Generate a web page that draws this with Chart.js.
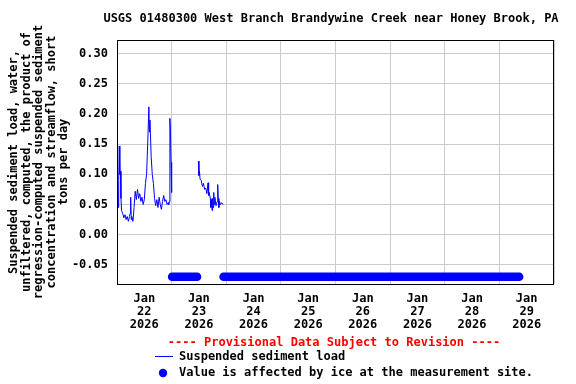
<!DOCTYPE html>
<html>
<head>
<meta charset="utf-8">
<script src="https://cdn.jsdelivr.net/npm/chart.js@4.4.0/dist/chart.umd.min.js"></script>
<style>
  html, body { margin: 0; padding: 0; background: #fff; }
  #chart { display: block; }
</style>
</head>
<body>
<canvas id="chart" width="576" height="384"></canvas>
<script>
// hours since Jan 22 2026 00:00
const sedTimes1 = [0.25, 0.5, 0.75, 1.0, 1.25, 1.5, 1.75, 2.0, 2.5, 3.0, 3.5, 4.0, 4.5, 5.0, 5.5, 5.75,
    6.0, 6.25, 6.5, 7.0, 7.5, 8.0, 8.5, 9.0, 9.5, 10.0, 10.5, 11.0, 11.5, 12.0, 12.5, 13.0, 13.5,
    14.0, 14.25, 14.5, 15.0, 15.5, 16.0, 16.5, 17.0, 17.5, 18.0, 18.5, 19.0, 19.5, 20.0, 20.5,
    21.0, 21.5, 22.0, 22.5, 22.75, 23.0, 23.25, 23.5, 23.75, 24.0];
const sedValues1 = [0.083, 0.045, 0.09, 0.147, 0.1, 0.105, 0.06, 0.04, 0.035, 0.028, 0.033, 0.025, 0.03, 0.022, 0.03, 0.035,
    0.062, 0.025, 0.03, 0.022, 0.045, 0.072, 0.058, 0.075, 0.06, 0.068, 0.055, 0.062, 0.05, 0.058, 0.085, 0.1, 0.152,
    0.212, 0.17, 0.19, 0.13, 0.1, 0.085, 0.06, 0.048, 0.058, 0.045, 0.062, 0.05, 0.042, 0.055, 0.065,
    0.055, 0.058, 0.05, 0.053, 0.05, 0.055, 0.193, 0.17, 0.12, 0.07];
const sedTimes2 = [35.75, 36.0, 36.25, 36.5, 37.0, 37.5, 38.0, 38.5, 39.0, 39.5, 40.0, 40.25, 40.5, 41.0, 41.25,
    41.5, 41.75, 42.0, 42.25, 42.5, 42.75, 43.0, 43.5, 44.0, 44.25, 44.5, 44.75, 45.0, 45.5, 46.0, 46.5];
const sedValues2 = [0.122, 0.098, 0.105, 0.092, 0.09, 0.08, 0.085, 0.075, 0.077, 0.068, 0.086, 0.065, 0.07, 0.06, 0.045,
    0.058, 0.04, 0.06, 0.045, 0.07, 0.05, 0.062, 0.048, 0.055, 0.083, 0.06, 0.045, 0.055, 0.05, 0.053, 0.05];

// ice-affected periods (hours since Jan 22 00:00)
const iceStart = [24.2, 46.8];
const iceEnd = [35.2, 176.7];
const iceLevel = -0.07;

const dayLabels = ['22', '23', '24', '25', '26', '27', '28', '29'];
const monthLabel = 'Jan';
const yearLabel = '2026';
const yTicks = [-0.05, 0.00, 0.05, 0.10, 0.15, 0.20, 0.25, 0.30];

const titleText = 'USGS 01480300 West Branch Brandywine Creek near Honey Brook, PA';
const yTitle = [
    'Suspended sediment load, water,',
    'unfiltered, computed, the product of',
    'regression-computed suspended sediment',
    'concentration and streamflow, short',
    'tons per day'
];
const provisionalText = '---- Provisional Data Subject to Revision ----';
const legendLine = 'Suspended sediment load';
const legendIce = 'Value is affected by ice at the measurement site.';

const FONT = 'bold 12px "DejaVu Sans Mono", monospace';

const sedData = [];
sedTimes1.forEach((t, i) => sedData.push({ x: t, y: sedValues1[i] }));
sedData.push({ x: 30, y: null });
sedTimes2.forEach((t, i) => sedData.push({ x: t, y: sedValues2[i] }));

const iceData = [];
iceStart.forEach((s, i) => {
    if (i > 0) iceData.push({ x: (iceEnd[i - 1] + s) / 2, y: null });
    iceData.push({ x: s, y: iceLevel });
    iceData.push({ x: iceEnd[i], y: iceLevel });
});

const decorPlugin = {
    id: 'decor',
    afterDraw(chart) {
        const ctx = chart.ctx;
        const a = chart.chartArea;
        ctx.save();
        // plot frame
        ctx.strokeStyle = '#000';
        ctx.lineWidth = 1;
        ctx.strokeRect(Math.round(a.left) + 0.5, Math.round(a.top) + 0.5,
            Math.round(a.right - a.left) - 1, Math.round(a.bottom - a.top));

        ctx.font = FONT;
        ctx.fillStyle = '#000';
        ctx.textBaseline = 'middle';
        ctx.textAlign = 'center';
        ctx.fillText(titleText, 331, 19);

        // y axis title
        const cols = [14, 26.5, 39, 51.5, 64];
        yTitle.forEach((line, i) => {
            ctx.save();
            ctx.translate(cols[i], 162);
            ctx.rotate(-Math.PI / 2);
            ctx.fillText(line, 0, 0);
            ctx.restore();
        });

        // legend
        ctx.fillStyle = '#ff0000';
        ctx.fillText(provisionalText, 334, 343);
        ctx.fillStyle = '#000';
        ctx.textAlign = 'left';
        ctx.fillText(legendLine, 179, 357);
        ctx.fillText(legendIce, 179, 373);
        ctx.strokeStyle = '#0000ff';
        ctx.beginPath();
        ctx.moveTo(155, 356.5);
        ctx.lineTo(173, 356.5);
        ctx.stroke();
        ctx.fillStyle = '#0000ff';
        ctx.beginPath();
        ctx.arc(163, 373, 4.2, 0, Math.PI * 2);
        ctx.fill();
        ctx.restore();
    }
};

new Chart(document.getElementById('chart'), {
    type: 'line',
    data: {
        datasets: [
            {
                label: 'Suspended sediment load',
                data: sedData,
                borderColor: '#0000ff',
                borderWidth: 1,
                pointRadius: 0,
                tension: 0,
                spanGaps: false
            },
            {
                label: 'Ice',
                data: iceData,
                borderColor: '#0000ff',
                borderWidth: 8.5,
                borderCapStyle: 'round',
                pointRadius: 0,
                spanGaps: false
            }
        ]
    },
    options: {
        responsive: false,
        animation: false,
        devicePixelRatio: 1,
        layout: { padding: { top: 40, right: 22, left: 0, bottom: 0 } },
        plugins: {
            legend: { display: false },
            title: { display: false },
            tooltip: { enabled: false }
        },
        scales: {
            x: {
                type: 'linear',
                min: 0,
                max: 192,
                afterBuildTicks: (scale) => {
                    const t = [];
                    for (let v = 0; v <= 192; v += 12) t.push({ value: v });
                    scale.ticks = t;
                },
                afterFit: (scale) => { scale.height = 100; },
                grid: {
                    drawTicks: false,
                    color: (c) => (c.tick && c.tick.value % 24 === 0) ? '#cccccc' : 'rgba(0,0,0,0)'
                },
                border: { display: false },
                ticks: {
                    autoSkip: false,
                    maxRotation: 0,
                    padding: 8,
                    color: '#000',
                    font: { family: '"DejaVu Sans Mono", monospace', size: 12, weight: 'bold', lineHeight: 1.08 },
                    callback: (v) => {
                        if (v % 24 !== 12) return '';
                        return [monthLabel, dayLabels[(v - 12) / 24], yearLabel];
                    }
                }
            },
            y: {
                type: 'linear',
                min: -0.082,
                max: 0.323,
                afterBuildTicks: (scale) => {
                    scale.ticks = yTicks.map(v => ({ value: v }));
                },
                afterFit: (scale) => { scale.width = 117; },
                grid: { drawTicks: false, color: '#cccccc' },
                border: { display: false },
                ticks: {
                    padding: 9,
                    color: '#000',
                    font: { family: '"DejaVu Sans Mono", monospace', size: 12, weight: 'bold' },
                    callback: (v) => v.toFixed(2)
                }
            }
        }
    },
    plugins: [decorPlugin]
});
</script>
</body>
</html>
